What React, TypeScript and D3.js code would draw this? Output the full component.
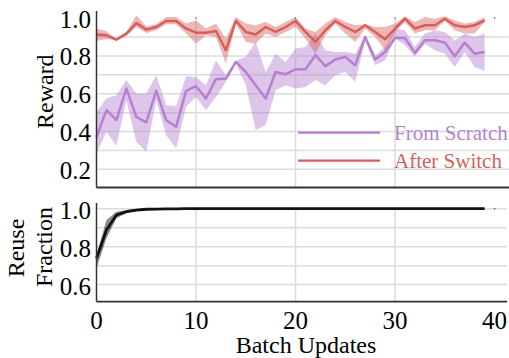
import React from "react";
import * as d3 from "d3";

const steps = d3.range(40);

const scratchMean = [0.372, 0.513, 0.46, 0.628, 0.478, 0.448, 0.615, 0.46, 0.425, 0.615, 0.64, 0.575, 0.677, 0.68, 0.768, 0.715, 0.645, 0.575, 0.715, 0.703, 0.73, 0.73, 0.804, 0.746, 0.781, 0.795, 0.751, 0.9, 0.781, 0.821, 0.895, 0.895, 0.816, 0.883, 0.883, 0.871, 0.798, 0.871, 0.812, 0.821];
const scratchUpper = [0.504, 0.575, 0.592, 0.672, 0.601, 0.601, 0.698, 0.54, 0.534, 0.693, 0.689, 0.645, 0.777, 0.698, 0.775, 0.795, 0.874, 0.715, 0.812, 0.768, 0.839, 0.847, 0.918, 0.83, 0.821, 0.821, 0.812, 0.91, 0.804, 0.847, 0.945, 0.936, 0.847, 0.918, 0.936, 0.927, 0.883, 0.918, 0.9, 0.918];
const scratchLower = [0.285, 0.399, 0.325, 0.566, 0.346, 0.293, 0.566, 0.381, 0.311, 0.531, 0.583, 0.513, 0.583, 0.663, 0.76, 0.645, 0.408, 0.434, 0.619, 0.645, 0.628, 0.636, 0.672, 0.645, 0.698, 0.715, 0.663, 0.88, 0.751, 0.777, 0.892, 0.856, 0.795, 0.865, 0.83, 0.812, 0.742, 0.821, 0.742, 0.721];

const switchMean = [0.913, 0.909, 0.886, 0.918, 0.974, 0.939, 0.953, 0.985, 0.985, 0.945, 0.923, 0.923, 0.932, 0.83, 0.985, 0.927, 0.913, 0.953, 0.927, 0.953, 0.985, 0.927, 0.874, 0.936, 0.985, 0.953, 0.927, 0.962, 0.927, 0.888, 0.945, 0.997, 0.945, 0.962, 0.962, 0.997, 0.962, 0.953, 0.962, 0.988];
const switchUpper = [0.945, 0.93, 0.89, 0.926, 1.015, 0.957, 0.967, 1.006, 1.006, 0.971, 0.988, 0.945, 0.971, 0.892, 1.006, 0.971, 0.962, 0.979, 0.953, 0.979, 1.006, 0.945, 0.927, 0.971, 1.006, 0.979, 0.962, 0.967, 0.953, 0.953, 0.971, 1.01, 0.979, 1.006, 0.997, 1.01, 0.988, 0.971, 0.979, 1.006];
const switchLower = [0.879, 0.89, 0.883, 0.906, 0.953, 0.921, 0.936, 0.967, 0.967, 0.918, 0.865, 0.909, 0.9, 0.76, 0.971, 0.874, 0.865, 0.918, 0.9, 0.927, 0.953, 0.892, 0.812, 0.909, 0.971, 0.918, 0.874, 0.945, 0.9, 0.83, 0.927, 0.979, 0.918, 0.936, 0.936, 0.985, 0.936, 0.918, 0.918, 0.979];

const reuseMean = [0.739, 0.888, 0.967, 0.984, 0.993, 0.997, 0.998, 0.999, 0.999, 1.0, 1.0, 1.0, 1.0, 1.0, 1.0, 1.0, 1.0, 1.0, 1.0, 1.0, 1.0, 1.0, 1.0, 1.0, 1.0, 1.0, 1.0, 1.0, 1.0, 1.0, 1.0, 1.0, 1.0, 1.0, 1.0, 1.0, 1.0, 1.0, 1.0, 1.0];
const reuseUpper = [0.756, 0.94, 0.984, 0.993, 0.998, 1.0, 1.001, 1.001, 1.001, 1.002, 1.002, 1.002, 1.002, 1.002, 1.002, 1.002, 1.002, 1.002, 1.002, 1.002, 1.002, 1.002, 1.002, 1.002, 1.002, 1.002, 1.002, 1.002, 1.002, 1.002, 1.002, 1.002, 1.003, 1.002, 1.002, 1.002, 1.002, 1.002, 1.002, 1.002];
const reuseLower = [0.686, 0.844, 0.949, 0.976, 0.988, 0.994, 0.996, 0.997, 0.998, 0.998, 0.998, 0.998, 0.998, 0.998, 0.998, 0.998, 0.998, 0.998, 0.998, 0.998, 0.998, 0.998, 0.998, 0.998, 0.998, 0.998, 0.998, 0.998, 0.998, 0.998, 0.998, 0.998, 0.997, 0.998, 0.998, 0.998, 0.998, 0.998, 0.998, 0.998];

const xTicks = [0, 10, 20, 30, 40];
const xGrid = [10, 20, 30];
const rewardTicks = [0.2, 0.4, 0.6, 0.8, 1.0];
const rewardGrid = [0.2, 0.3, 0.4, 0.5, 0.6, 0.7, 0.8, 0.9];
const reuseTicks = [0.6, 0.8, 1.0];
const reuseGrid = [0.6, 0.7, 0.8, 0.9, 1.0];

const seriesNames = ["From Scratch", "After Switch"];
const PURPLE = "#b67fd0";
const RED = "#d65f5c";
const FONT = "Liberation Serif";

export default function App() {
  const W = 509, H = 358;
  const x = d3.scaleLinear().domain([0, 41.3]).range([96.5, 507.5]);
  const yTop = d3.scaleLinear().domain([0.104, 1.035]).range([187.5, 11.5]);
  const yBot = d3.scaleLinear().domain([0.51, 1.03]).range([301.7, 203]);

  const mkLine = (y: d3.ScaleLinear<number, number>, vals: number[]) =>
    d3.line<number>().x((i) => x(i)).y((i) => y(vals[i]))(steps) || "";
  const mkArea = (y: d3.ScaleLinear<number, number>, lo: number[], hi: number[]) =>
    d3.area<number>().x((i) => x(i)).y0((i) => y(lo[i])).y1((i) => y(hi[i]))(steps) || "";

  const gridColor = "#dcdcdc";
  const spineColor = "#333";
  const ts = (size: number, fill = "#000") => ({ fontFamily: FONT, fontSize: size, fill });

  return (
    <svg width={W} height={H} style={{ position: "absolute", left: 0, top: 0, overflow: "hidden", background: "#fff" }}>
      {rewardGrid.map((v) => (
        <line key={"rg" + v} x1={x(0)} x2={509} y1={yTop(v)} y2={yTop(v)} stroke={gridColor} strokeWidth={1.5} />
      ))}
      {xGrid.map((v) => (
        <line key={"xg" + v} x1={x(v)} x2={x(v)} y1={yTop.range()[0]} y2={yTop(1.0) + 1} stroke={gridColor} strokeWidth={1.5} />
      ))}
      {[10, 20, 30, 40].map((v) => (
        <circle key={"dt" + v} cx={x(v)} cy={yTop(1.0)} r={0.8} fill="#555" />
      ))}
      <path d={mkArea(yTop, scratchLower, scratchUpper)} fill={PURPLE} fillOpacity={0.45} />
      <path d={mkLine(yTop, scratchMean)} fill="none" stroke={PURPLE} strokeWidth={2.5} strokeLinejoin="round" />
      <path d={mkArea(yTop, switchLower, switchUpper)} fill={RED} fillOpacity={0.45} />
      <path d={mkLine(yTop, switchMean)} fill="none" stroke={RED} strokeWidth={2.5} strokeLinejoin="round" />
      <line x1={x(0)} x2={x(0)} y1={yTop.range()[1] - 0.5} y2={yTop.range()[0]} stroke={spineColor} strokeWidth={1.5} />
      <line x1={x(0)} x2={509} y1={yTop.range()[0]} y2={yTop.range()[0]} stroke={spineColor} strokeWidth={1.8} />
      {rewardTicks.map((v) => (
        <text key={"rt" + v} x={91} y={yTop(v)} dy={1} textAnchor="end" dominantBaseline="central" style={ts(25)}>
          {v.toFixed(1)}
        </text>
      ))}
      <text transform="translate(53,91.7) rotate(-90)" textAnchor="middle" style={ts(24)}>Reward</text>

      {seriesNames.map((name, k) => {
        const ly = 132.7 + k * 28;
        const c = k === 0 ? PURPLE : RED;
        return (
          <g key={name}>
            <line x1={298} x2={380} y1={ly} y2={ly} stroke={c} strokeWidth={2.2} />
            <text x={394} y={ly} dominantBaseline="central" dy={0.5} style={ts(21, c)}>{name}</text>
          </g>
        );
      })}

      {reuseGrid.map((v) => (
        <line key={"ug" + v} x1={x(0)} x2={507} y1={yBot(v)} y2={yBot(v)} stroke={gridColor} strokeWidth={1.5} />
      ))}
      {xGrid.map((v) => (
        <line key={"xb" + v} x1={x(v)} x2={x(v)} y1={yBot.range()[0]} y2={yBot(1.0)} stroke={gridColor} strokeWidth={1.5} />
      ))}
      <circle cx={x(40)} cy={yBot(1.0)} r={0.8} fill="#555" />
      <path d={mkArea(yBot, reuseLower, reuseUpper)} fill="#000" fillOpacity={0.45} />
      <path d={mkLine(yBot, reuseMean)} fill="none" stroke="#111" strokeWidth={2.8} strokeLinejoin="round" />
      <line x1={x(0)} x2={x(0)} y1={yBot.range()[1]} y2={yBot.range()[0]} stroke={spineColor} strokeWidth={1.5} />
      <line x1={x(0)} x2={507} y1={yBot.range()[0]} y2={yBot.range()[0]} stroke={spineColor} strokeWidth={1.8} />
      {reuseTicks.map((v) => (
        <text key={"ut" + v} x={91} y={yBot(v)} dy={1.5} textAnchor="end" dominantBaseline="central" style={ts(25)}>
          {v.toFixed(1)}
        </text>
      ))}
      <text transform="translate(24,248) rotate(-90)" textAnchor="middle" style={ts(24)}>Reuse</text>
      <text transform="translate(51.5,247) rotate(-90)" textAnchor="middle" style={ts(24)}>Fraction</text>

      {xTicks.map((v) => (
        <text key={"xt" + v} x={x(v)} y={329} textAnchor="middle" style={ts(25)}>{v}</text>
      ))}
      <text x={306} y={353} textAnchor="middle" style={ts(24)}>Batch Updates</text>
    </svg>
  );
}
